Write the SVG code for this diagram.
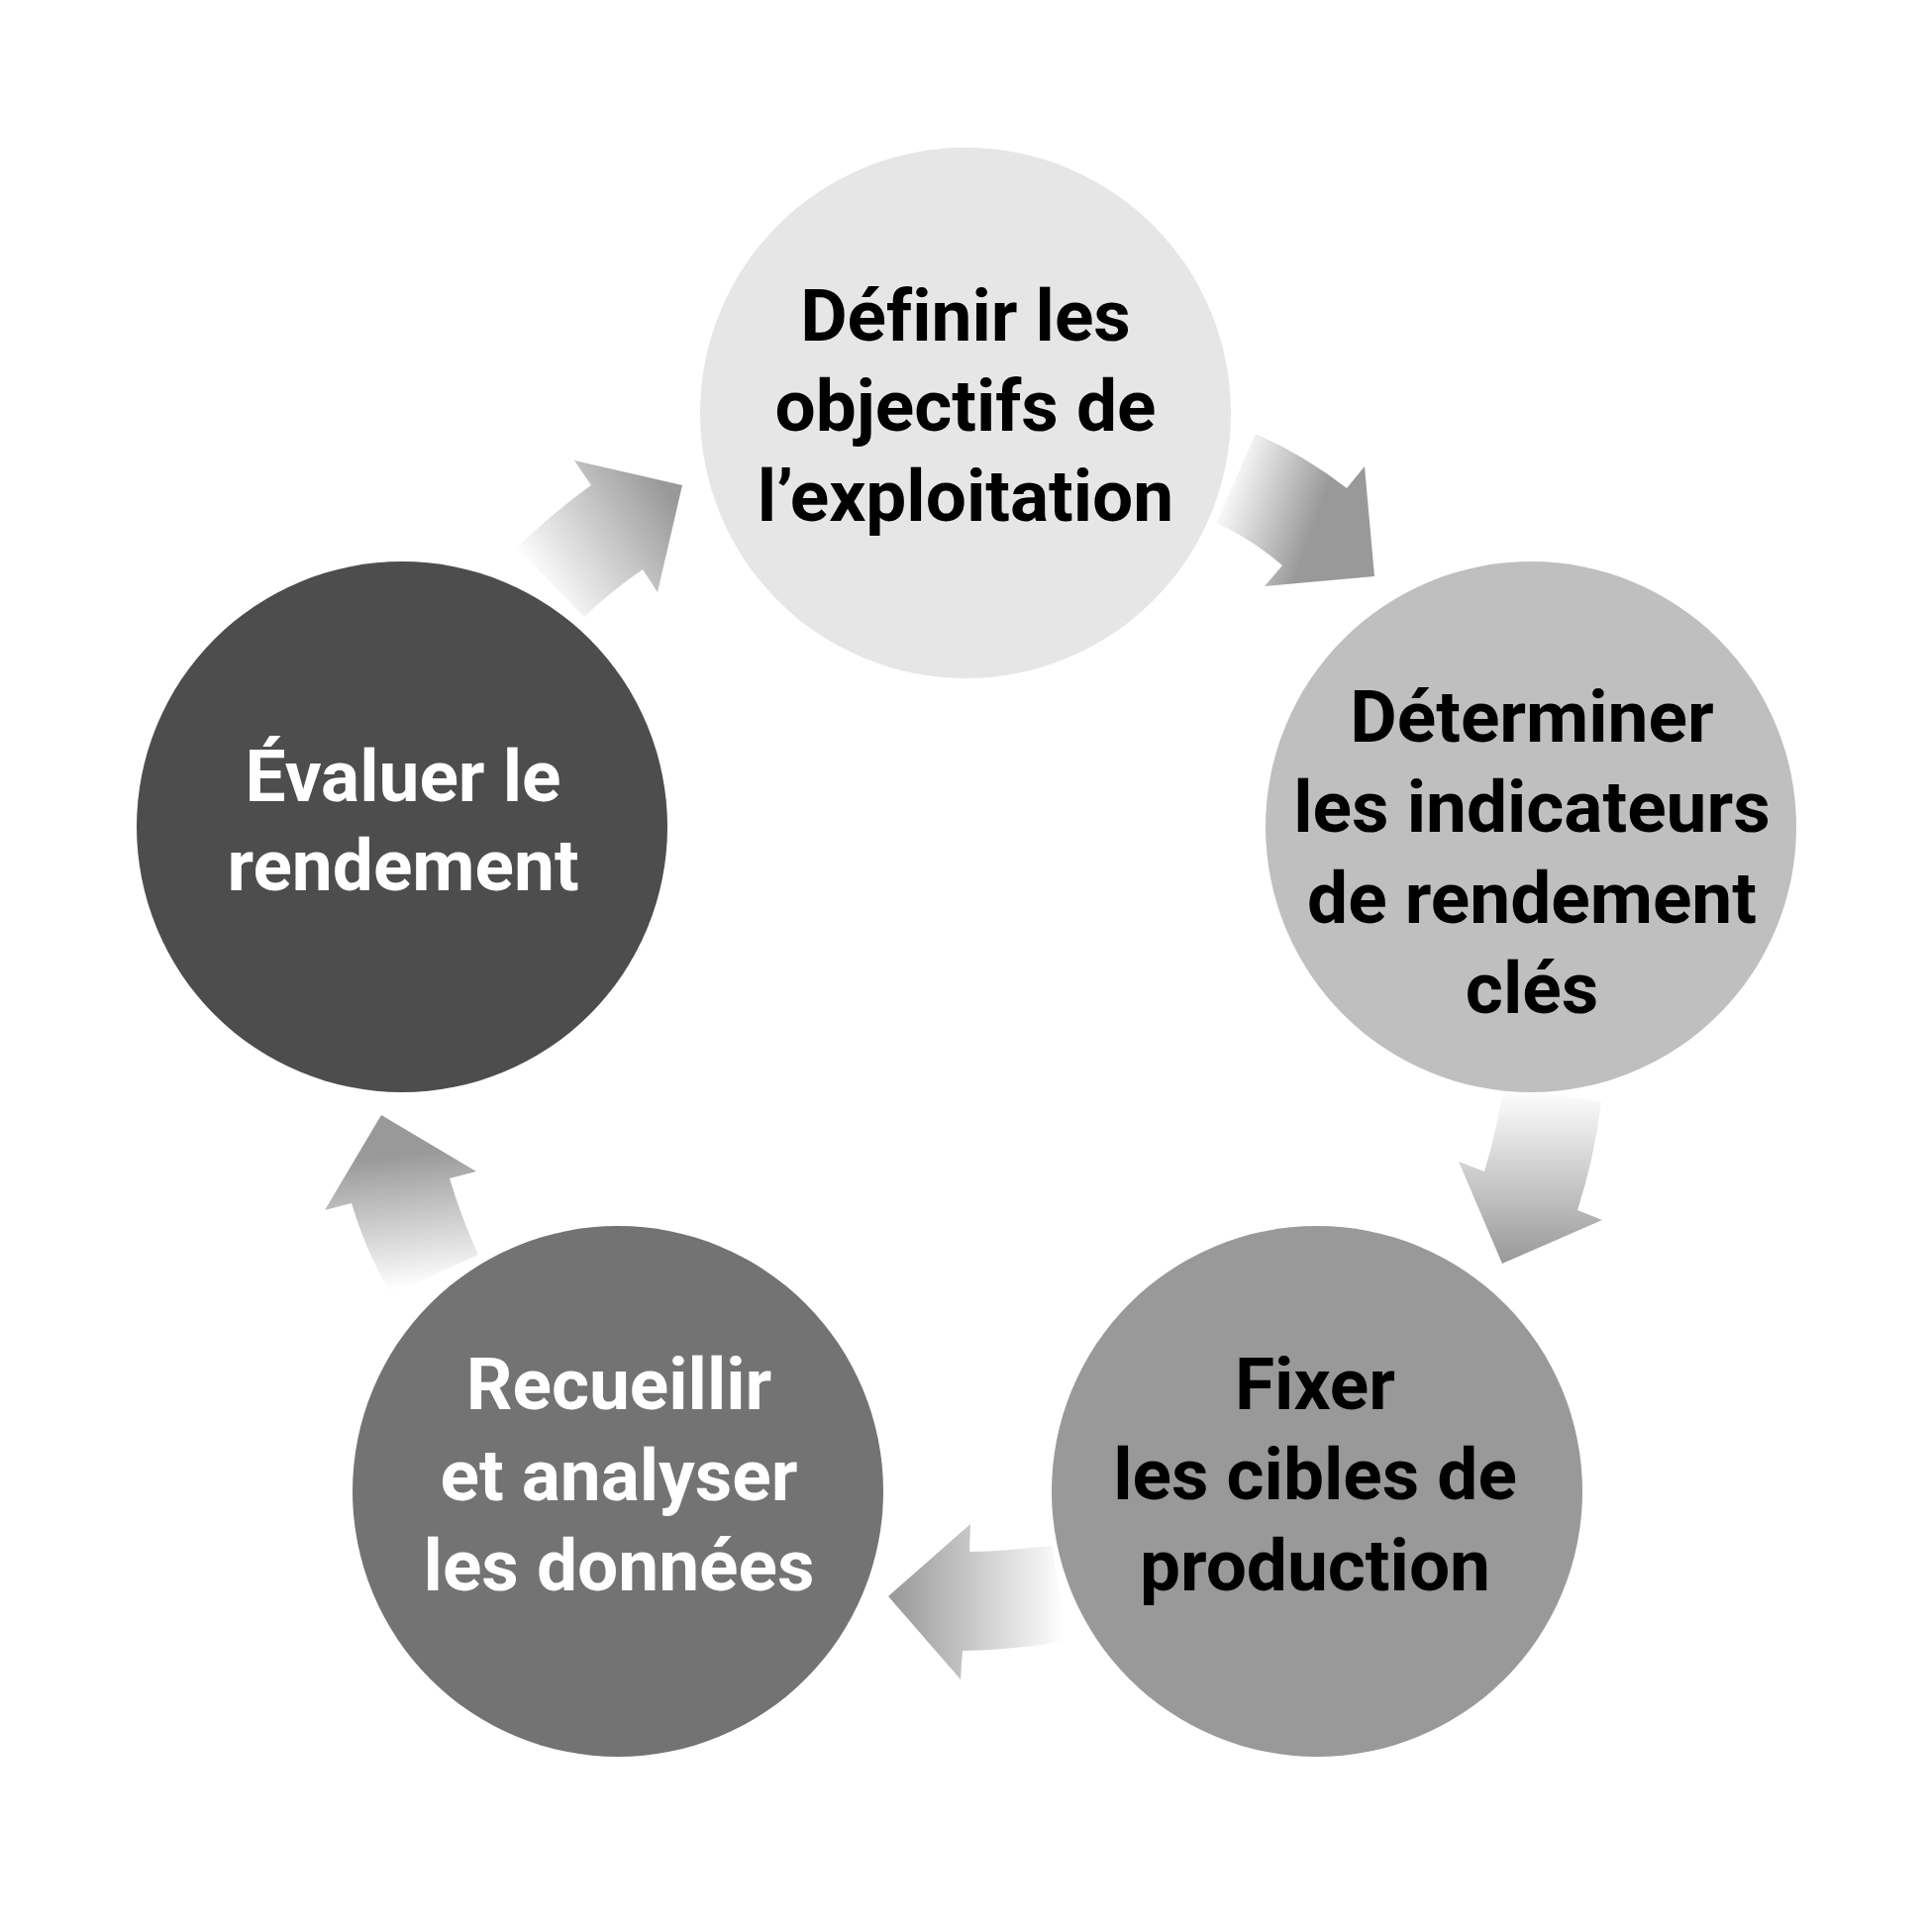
<svg xmlns="http://www.w3.org/2000/svg" width="1950" height="1951" viewBox="0 0 1950 1951">
<style>
.lbl{font-family:Roboto,"Liberation Sans",Arial,sans-serif;font-weight:700;font-size:73px;text-anchor:middle;font-variant-ligatures:none;font-feature-settings:"liga" 0,"clig" 0}
.dk{fill:#000}
.lt{fill:#fff}
</style>
<defs>
<linearGradient id="g1" gradientUnits="userSpaceOnUse" x1="1235" y1="490" x2="1330" y2="523"><stop offset="0" stop-color="#fff"/><stop offset="1" stop-color="#999"/></linearGradient>
<linearGradient id="g2" gradientUnits="userSpaceOnUse" x1="1560" y1="1100" x2="1560" y2="1275"><stop offset="0" stop-color="#fff"/><stop offset="1" stop-color="#999"/></linearGradient>
<linearGradient id="g3" gradientUnits="userSpaceOnUse" x1="1075" y1="1610" x2="900" y2="1610"><stop offset="0" stop-color="#fff"/><stop offset="1" stop-color="#999"/></linearGradient>
<linearGradient id="g4" gradientUnits="userSpaceOnUse" x1="425" y1="1300" x2="410" y2="1165"><stop offset="0" stop-color="#fff"/><stop offset="1" stop-color="#999"/></linearGradient>
<linearGradient id="g5" gradientUnits="userSpaceOnUse" x1="545" y1="595" x2="680" y2="505"><stop offset="0" stop-color="#fff"/><stop offset="1" stop-color="#999"/></linearGradient>
</defs>
<rect width="1950" height="1951" fill="#fff"/>
<g id="connectors">
<path d="M1268,438 Q1318,460 1360,493 L1378,471 L1388,582 L1277,592 L1295,571 Q1265,545 1228,528 Z" fill="url(#g1)"/>
<path d="M1518,1098 Q1512,1140 1499,1183 L1473,1173 L1517,1276 L1618,1232 L1593,1222 Q1610,1170 1617,1112 Z" fill="url(#g2)"/>
<path d="M1062,1561 Q1020,1566 979,1567 L980,1539 L897,1612 L970,1696 L972,1667 Q1025,1666 1078,1657 Z" fill="url(#g3)"/>
<path d="M483,1267 Q466,1230 454,1190 L481,1183 L385,1126 L328,1222 L355,1215 Q370,1265 395,1307 Z" fill="url(#g4)"/>
<path d="M522,553 Q558,518 597,490 L580,465 L689,490 L664,598 L649,575 Q618,596 590,623 Z" fill="url(#g5)"/>
</g>
<g id="node1">
<circle cx="975" cy="417" r="268" fill="#e6e6e6"/>
<text class="lbl dk" x="975" y="344">Définir les</text>
<text class="lbl dk" x="975" y="435">objectifs de</text>
<text class="lbl dk" x="975" y="526">l’exploitation</text>
</g>
<g id="node2">
<circle cx="1546" cy="835" r="268" fill="#bfbfbf"/>
<text class="lbl dk" x="1547" y="749">Déterminer</text>
<text class="lbl dk" x="1547" y="840">les indicateurs</text>
<text class="lbl dk" x="1547" y="932">de rendement</text>
<text class="lbl dk" x="1547" y="1023">clés</text>
</g>
<g id="node3">
<circle cx="1330" cy="1506" r="268" fill="#999"/>
<text class="lbl dk" x="1328" y="1423">Fixer</text>
<text class="lbl dk" x="1328" y="1514">les cibles de</text>
<text class="lbl dk" x="1328" y="1606">production</text>
</g>
<g id="node4">
<circle cx="624" cy="1506" r="268" fill="#737373"/>
<text class="lbl lt" x="625" y="1423">Recueillir</text>
<text class="lbl lt" x="625" y="1515">et analyser</text>
<text class="lbl lt" x="625" y="1606">les données</text>
</g>
<g id="node5">
<circle cx="406" cy="835" r="268" fill="#4d4d4d"/>
<text class="lbl lt" x="407" y="809">Évaluer le</text>
<text class="lbl lt" x="407" y="899">rendement</text>
</g>
</svg>
